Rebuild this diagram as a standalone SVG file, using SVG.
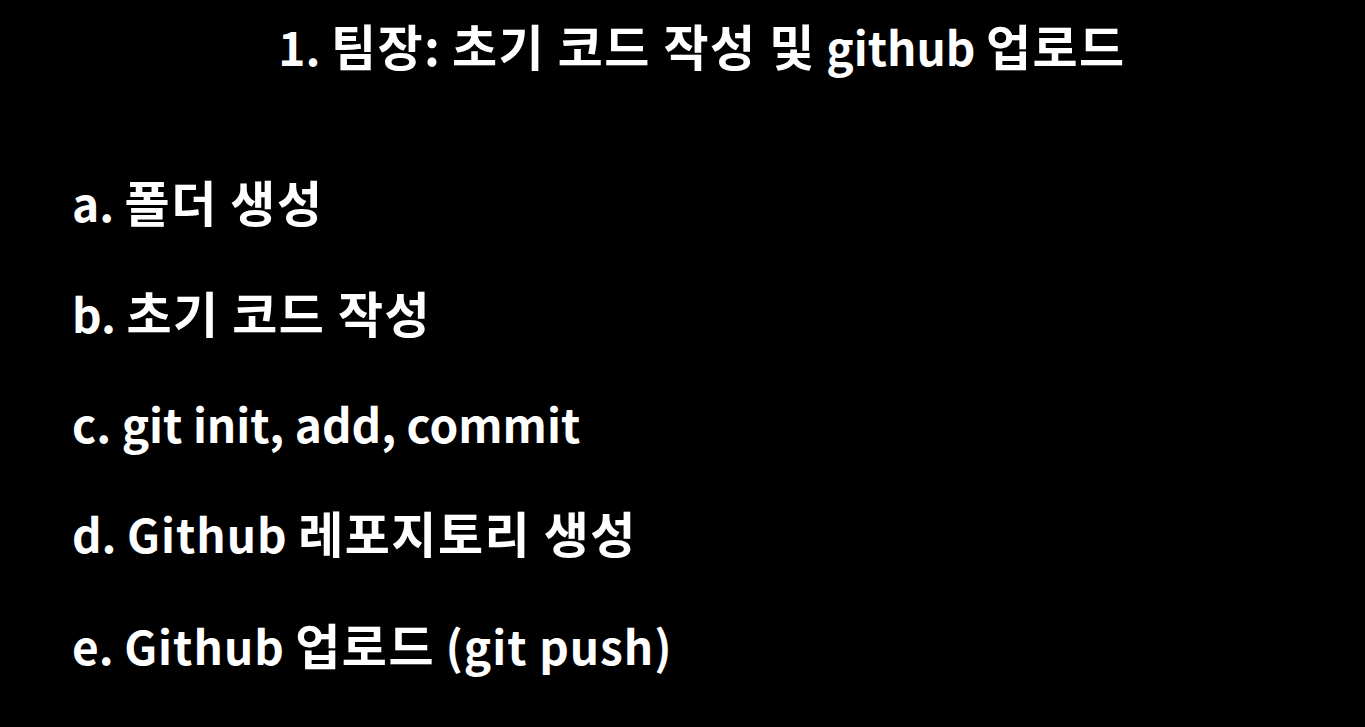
<svg xmlns="http://www.w3.org/2000/svg" width="1365" height="727" viewBox="0 0 1365 727">
<style>
text{font-family:"Noto Sans CJK KR","Noto Sans",sans-serif;font-weight:bold;fill:#ffffff;font-size:46px;}
.h{font-size:49px;letter-spacing:1.5px;}
.w{letter-spacing:1px;}
</style>
<rect x="0" y="0" width="1365" height="727" fill="#000000"/>
<g id="title"><text x="702" y="66" text-anchor="middle">1. <tspan class="h">팀장:</tspan> <tspan class="h">초기 코드 작성 및</tspan> github <tspan class="h">업로드</tspan></text></g>
<g id="item-a"><text x="72" y="222">a. <tspan class="h">폴더 생성</tspan></text></g>
<g id="item-b"><text x="72" y="333">b. <tspan class="h">초기 코드 작성</tspan></text></g>
<g id="item-c"><text x="72" y="443">c. git init, add, commit</text></g>
<g id="item-d"><text x="72" y="553">d. <tspan class="w">Github</tspan> <tspan class="h">레포지토리 생성</tspan></text></g>
<g id="item-e"><text x="72" y="665">e. <tspan class="w">Github</tspan> <tspan class="h">업로드</tspan> <tspan class="w">(git push)</tspan></text></g>
</svg>
